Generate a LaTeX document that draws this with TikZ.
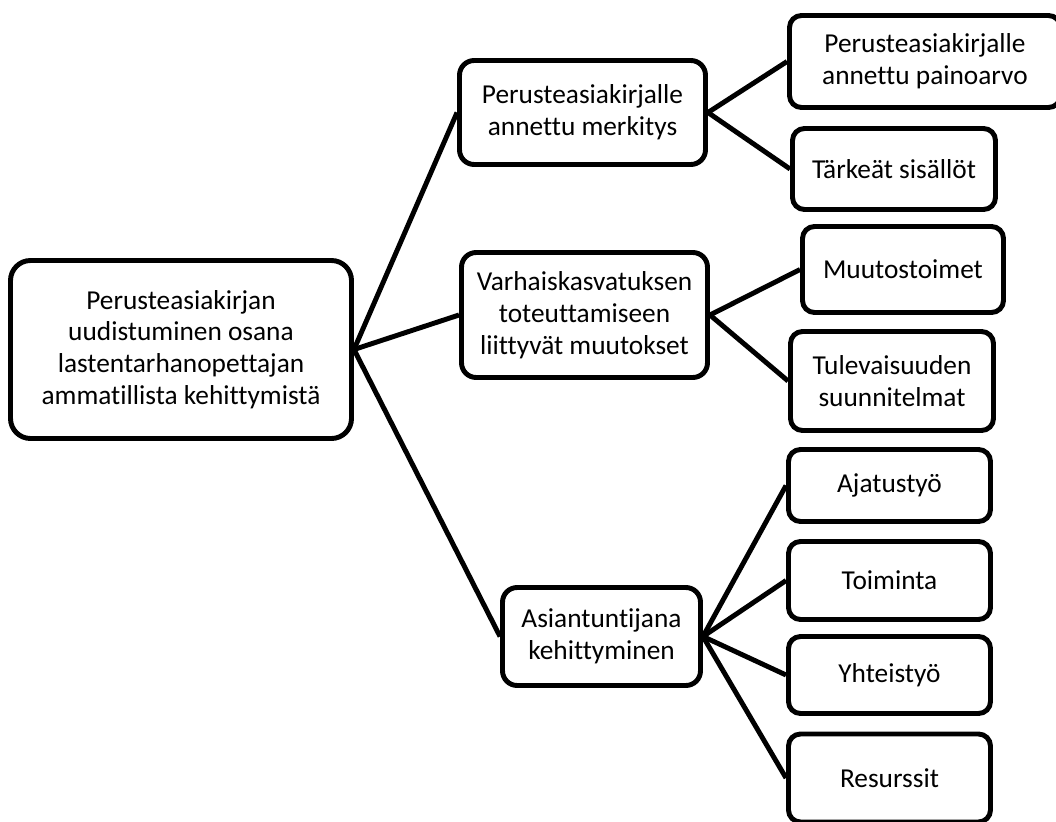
\documentclass[tikz,border=0pt]{standalone}
\usepackage{fontspec}
\setmainfont{Carlito}[Ligatures=NoCommon]
\begin{document}
\begin{tikzpicture}[x=0.75pt,y=-0.75pt,
  box/.style={draw=black,line width=3.7pt,fill=white,inner sep=0pt,align=center,
    font=\fontsize{20.5}{23.8}\selectfont},
  rootbox/.style={box,rounded corners=15pt},
  midbox/.style={box,rounded corners=11pt},
  leafbox/.style={box,rounded corners=9pt},
  link/.style={draw=black,line width=3.7pt}]
\useasboundingbox (0,0) rectangle (1056,821);
% nodes
\node[rootbox,minimum width=341*0.75pt,minimum height=178*0.75pt] (root) at (181,349.5)
  {Perusteasiakirjan\\uudistuminen osana\\lastentarhanopettajan\\ammatillista kehittymistä};
\node[midbox,minimum width=246*0.75pt,minimum height=104*0.75pt] (a1) at (582.5,112.5)
  {Perusteasiakirjalle\\annettu merkitys};
\node[midbox,minimum width=246*0.75pt,minimum height=125*0.75pt] (a2) at (584.5,315)
  {Varhaiskasvatuksen\\toteuttamiseen\\liittyvät muutokset};
\node[midbox,minimum width=198*0.75pt,minimum height=98*0.75pt] (a3) at (601.5,636.5)
  {Asiantuntijana\\kehittyminen};
\node[leafbox,minimum width=271*0.75pt,minimum height=92*0.75pt] (b1) at (925,61.5)
  {Perusteasiakirjalle\\annettu painoarvo};
\node[leafbox,minimum width=203*0.75pt,minimum height=81*0.75pt] (b2) at (894,169)
  {Tärkeät sisällöt};
\node[leafbox,minimum width=201*0.75pt,minimum height=86*0.75pt] (b3) at (903,269.5)
  {Muutostoimet};
\node[leafbox,minimum width=203*0.75pt,minimum height=99*0.75pt] (b4) at (892,381)
  {Tulevaisuuden\\suunnitelmat};
\node[leafbox,minimum width=202*0.75pt,minimum height=72*0.75pt] (b5) at (889.5,485.5)
  {Ajatustyö};
\node[leafbox,minimum width=202*0.75pt,minimum height=78*0.75pt] (b6) at (889.5,580.5)
  {Toiminta};
\node[leafbox,minimum width=202*0.75pt,minimum height=77*0.75pt] (b7) at (889.5,675)
  {Yhteistyö};
\node[leafbox,minimum width=202*0.75pt,minimum height=88*0.75pt] (b8) at (889.5,778)
  {Resurssit};
% connectors
\draw[link] (root.east) -- (a1.west);
\draw[link] (root.east) -- (a2.west);
\draw[link] (root.east) -- (a3.west);
\draw[link] (a1.east) -- (b1.west);
\draw[link] (a1.east) -- (b2.west);
\draw[link] (a2.east) -- (b3.west);
\draw[link] (a2.east) -- (b4.west);
\draw[link] (a3.east) -- (b5.west);
\draw[link] (a3.east) -- (b6.west);
\draw[link] (a3.east) -- (b7.west);
\draw[link] (a3.east) -- (b8.west);
\end{tikzpicture}
\end{document}
